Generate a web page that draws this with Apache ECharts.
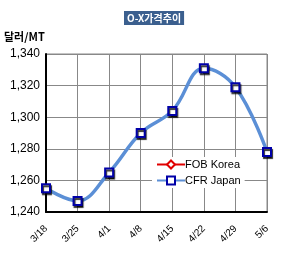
<!DOCTYPE html>
<html>
<head>
<meta charset="utf-8">
<script src="https://cdn.jsdelivr.net/npm/echarts@6/dist/echarts.min.js"></script>
<style>
  html, body { margin: 0; padding: 0; background: #fff; }
  #chart { width: 281px; height: 264px; }
</style>
</head>
<body>
<div id="chart"></div>
<script>
// 주간 O-X 가격 (달러/MT)
const weeks = ['3/18', '3/25', '4/1', '4/8', '4/15', '4/22', '4/29', '5/6'];
const fobKorea = [null, null, null, null, null, null, null, null];
const cfrJapan = [1255, 1247, 1265, 1290, 1304, 1331, 1319, 1278];
const yTicks = { min: 1240, max: 1340, step: 20 };

const chart = echarts.init(document.getElementById('chart'));
const font = 'Arial, "Liberation Sans", sans-serif';

const option = {
    animation: false,
    backgroundColor: '#fff',
    title: {
        text: 'O-X가격추이',
        left: 124,
        top: 11,
        padding: [2, 3, 2, 3],
        backgroundColor: '#3b5f8e',
        textStyle: {
            color: '#fff',
            fontSize: 10,
            fontWeight: 'bold',
            fontFamily: '"Noto Sans CJK KR", Arial, sans-serif',
        },
    },
    graphic: [
        {
            type: 'text',
            left: 4,
            top: 31,
            style: {
                text: '달러/MT',
                fill: '#000',
                font: 'bold 11px "Noto Sans CJK KR", Arial, sans-serif',
            },
        },
    ],
    legend: {
        orient: 'vertical',
        left: 152,
        top: 157,
        itemGap: 5,
        itemWidth: 28,
        itemHeight: 10,
        backgroundColor: '#fff',
        padding: [2, 4, 2, 4],
        data: ['FOB Korea', 'CFR Japan'],
        textStyle: { color: '#000', fontSize: 11, fontFamily: font, padding: [0, 0, 0, -5] },
    },
    grid: {
        left: 46,
        right: 14,
        top: 54,
        bottom: 52,
        show: true,
        borderColor: '#888',
        borderWidth: 1,
    },
    xAxis: {
        type: 'category',
        data: weeks,
        boundaryGap: false,
        axisLine: { lineStyle: { color: '#000', width: 2 } },
        axisTick: { show: false },
        splitLine: { show: true, lineStyle: { color: '#888', width: 1 } },
        axisLabel: {
            rotate: 45,
            color: '#000',
            fontSize: 10,
            fontFamily: font,
            margin: 15,
        },
    },
    yAxis: {
        type: 'value',
        min: yTicks.min,
        max: yTicks.max,
        interval: yTicks.step,
        axisLine: { show: true, lineStyle: { color: '#000', width: 2 } },
        axisTick: { show: false },
        splitLine: { lineStyle: { color: '#888', width: 1 } },
        axisLabel: {
            color: '#000',
            fontSize: 12,
            fontFamily: font,
            margin: 6,
            formatter: (v) => v.toLocaleString('en-US'),
        },
    },
    series: [
        {
            name: 'FOB Korea',
            type: 'line',
            data: fobKorea,
            symbol: 'diamond',
            symbolSize: 7,
            lineStyle: { color: '#e00000', width: 4 },
            itemStyle: { color: '#fff', borderColor: '#e00000', borderWidth: 1.5 },
        },
        {
            name: 'CFR Japan',
            type: 'line',
            data: cfrJapan,
            smooth: 0.4,
            symbol: 'rect',
            symbolSize: 8,
            z: 3,
            lineStyle: { color: '#5b8fd6', width: 3.5 },
            itemStyle: {
                color: '#fff',
                borderColor: '#0000a8',
                borderWidth: 2,
                shadowColor: 'rgba(0,0,0,0.8)',
                shadowBlur: 1,
                shadowOffsetX: 1,
                shadowOffsetY: 2,
            },
        },
    ],
};

chart.setOption(option);
</script>
</body>
</html>
